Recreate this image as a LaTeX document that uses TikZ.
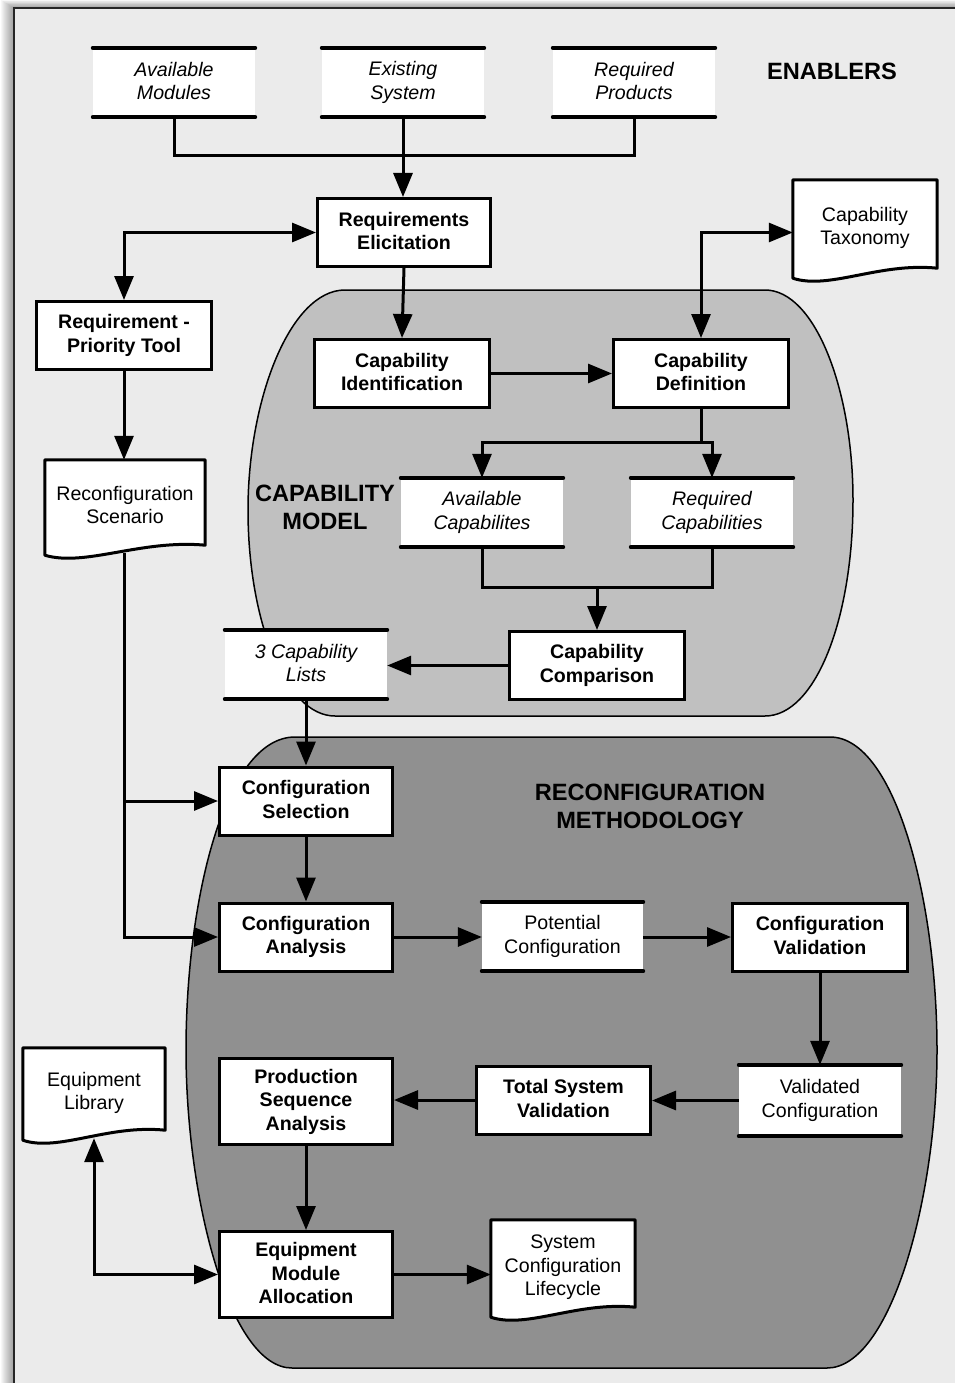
\documentclass[tikz,border=0pt]{standalone}
\usepackage{fontspec}
\setmainfont{Liberation Sans}
\usetikzlibrary{arrows.meta,calc}

\pgfdeclarelayer{back}
\pgfdeclarelayer{lines}
\pgfdeclarelayer{docs}
\pgfsetlayers{back,lines,docs,main}

\definecolor{framefill}{HTML}{EBEBEB}
\definecolor{modelfill}{HTML}{C0C0C0}
\definecolor{methodfill}{HTML}{909090}

% struts that keep the text block optically centred
\newcommand\topstrut{\rule{0pt}{24pt}}
\newcommand\botstrut{\rule[-3pt]{0pt}{3pt}}

% outline of a document symbol (wavy lower edge) around a named node
\newcommand\docshape[1]{%
  \begin{pgfonlayer}{docs}
    \draw[docline] ($(#1.south west)+(0,2)$) -- (#1.north west) -- (#1.north east)
      -- ($(#1.south east)+(0,-8)$)
      .. controls ($(#1.south west)!0.6!(#1.south east)+(0,-14)$)
      and ($(#1.south west)!0.25!(#1.south east)+(0,14)$)
      .. ($(#1.south west)+(0,2)$) -- cycle;
  \end{pgfonlayer}}

\begin{document}
\begin{tikzpicture}[x=1pt,y=-1pt,
  base/.style={font=\fontsize{19.6}{23.5}\selectfont, align=center, inner sep=0pt,
    execute at begin node=\topstrut, execute at end node=\botstrut},
  proc/.style={base, draw, line width=3pt, fill=white,
    minimum width=173pt, minimum height=68pt,
    font=\fontsize{19.6}{23.5}\selectfont\bfseries},
  storeline/.style={line width=4pt, line cap=round},
  store/.style={base, fill=white, minimum width=162pt, minimum height=69pt,
    append after command={(\tikzlastnode.north west) edge[storeline] (\tikzlastnode.north east)
      (\tikzlastnode.south west) edge[storeline] (\tikzlastnode.south east)}},
  istore/.style={store, font=\fontsize{19.6}{23.5}\selectfont\itshape},
  doc/.style={base},
  docline/.style={line width=3pt, fill=white, line join=round},
  regiontitle/.style={base, font=\fontsize{23.6}{28}\selectfont\bfseries},
  link/.style={line width=3pt},
  flow/.style={line width=3pt, -{Triangle[length=24pt,width=19pt]}},
  bothflow/.style={line width=3pt, {Triangle[length=24pt,width=19pt]}-{Triangle[length=24pt,width=19pt]}},
]
\useasboundingbox (0,0) rectangle (954,1383);

% page, drop shadow and frame
\begin{pgfonlayer}{back}
  \fill[white] (0,0) rectangle (954,1383);
  \foreach \i in {1,...,13}
    \fill[black, opacity=0.03] (14-\i, 8-0.6*\i) rectangle (980,1400);
  \draw[line width=2pt, draw=black!85, fill=framefill] (14,8) rectangle (980,1400);

  % capability model region
  \draw[line width=1.5pt, fill=modelfill]
    (345,290) -- (765,290)
    .. controls (815,290) and (853,390) .. (853,500)
    .. controls (853,620) and (815,716) .. (765,716)
    -- (335,716)
    .. controls (285,716) and (248,620) .. (248,510)
    .. controls (248,400) and (290,290) .. (345,290) -- cycle;

  % reconfiguration methodology region
  \draw[line width=1.5pt, fill=methodfill]
    (295,737) -- (830,737)
    .. controls (895,737) and (937,900) .. (937,1050)
    .. controls (937,1200) and (890,1368) .. (827,1368)
    -- (292,1368)
    .. controls (230,1368) and (186,1200) .. (186,1050)
    .. controls (186,900) and (225,737) .. (295,737) -- cycle;
\end{pgfonlayer}

% region titles
\node[regiontitle] (enablers) at (832,69) {ENABLERS};
\node[regiontitle] (capmodel) at (325,509) {CAPABILITY\\MODEL};
\node[regiontitle] (methodology) at (650,808) {RECONFIGURATION\\METHODOLOGY};

% enablers
\node[istore] (am) at (174,82.5) {Available\\Modules};
\node[istore] (es) at (403,82.5) {Existing\\System};
\node[istore] (rp) at (634,82.5) {Required\\Products};

% processes
\node[proc] (re)  at (404,232.5)  {Requirements\\Elicitation};
\node[proc, minimum width=175pt] (rpt) at (124,335.5) {Requirement -\\Priority Tool};
\node[proc, minimum width=175pt] (ci)  at (402,373.5) {Capability\\Identification};
\node[proc, minimum width=175pt] (cd)  at (701,373.5) {Capability\\Definition};
\node[proc, minimum width=175pt] (cc)  at (597,665.5) {Capability\\Comparison};
\node[proc] (cs)  at (306,801)    {Configuration\\Selection};
\node[proc] (ca)  at (306,937)    {Configuration\\Analysis};
\node[proc, minimum width=175pt] (cv)  at (820,937) {Configuration\\Validation};
\node[proc, minimum height=86pt] (psa) at (306,1101.5) {Production\\Sequence\\Analysis};
\node[proc, minimum width=174pt] (tsv) at (563.5,1100) {Total System\\Validation};
\node[proc, minimum height=86pt] (ema) at (306,1274.5) {Equipment\\Module\\Allocation};

% data stores
\node[istore] (ac)  at (482,512.5) {Available\\Capabilites};
\node[istore] (rc)  at (712,512.5) {Required\\Capabilities};
\node[istore] (cl3) at (306,664.5) {3 Capability\\Lists};
\node[store, minimum width=161pt] (pc) at (562.5,936.5) {Potential\\Configuration};
\node[store, minimum height=71pt] (vc) at (820,1100.5) {Validated\\Configuration};

% documents
\node[doc, minimum width=144pt, minimum height=96pt] (ct)  at (865,228) {Capability\\Taxonomy};
\node[doc, minimum width=160pt, minimum height=93pt] (rs)  at (125,506.5) {Reconfiguration\\Scenario};
\node[doc, minimum width=142pt, minimum height=90pt] (el)  at (94,1093) {Equipment\\Library};
\node[doc, minimum width=144pt, minimum height=95pt] (scl) at (563,1267.5) {System\\Configuration\\Lifecycle};
\docshape{ct}
\docshape{rs}
\docshape{el}
\docshape{scl}

% connectors
\begin{pgfonlayer}{lines}
  \coordinate (split) at (701,442);
  \coordinate (merge) at (597,587);

  \draw[link] (am.south) -- ++(0,38) -| (rp.south);
  \draw[flow] (es.south) -- (es.south |- re.north);
  \draw[bothflow] (rpt.north) |- (re.west);
  \draw[flow] (re.south) -- (ci.north);
  \draw[bothflow] (cd.north) |- (ct.west |- re.west);
  \draw[flow] (ci.east) -- (ci.east -| cd.west);

  \draw[link] (cd.south) -- (split);
  \draw[flow] (split) -| (ac.north);
  \draw[flow] (split) -| (rc.north);
  \draw[link] (ac.south) |- (merge) -| (rc.south);
  \draw[flow] (merge) -- (cc.north);
  \draw[flow] (cc.west) -- (cc.west -| cl3.east);
  \draw[flow] (cl3.south) -- (cs.north);

  \draw[flow] (rpt.south) -- (rpt.south |- rs.north);
  \draw[flow] (rpt.south |- rs.south) |- (cs.west);
  \draw[flow] (rpt.south |- rs.south) |- (ca.west);

  \draw[flow] (cs.south) -- (ca.north);
  \draw[flow] (ca.east) -- (ca.east -| pc.west);
  \draw[flow] (ca.east -| pc.east) -- (ca.east -| cv.west);
  \draw[flow] (cv.south) -- (vc.north);
  \draw[flow] (vc.west) -- (vc.west -| tsv.east);
  \draw[flow] (tsv.west) -- (tsv.west -| psa.east);
  \draw[flow] (psa.south) -- (ema.north);
  \draw[bothflow] (el.south) |- (ema.west);
  \draw[flow] (ema.east) -- (ema.east -| scl.west);
\end{pgfonlayer}
\end{tikzpicture}
\end{document}
